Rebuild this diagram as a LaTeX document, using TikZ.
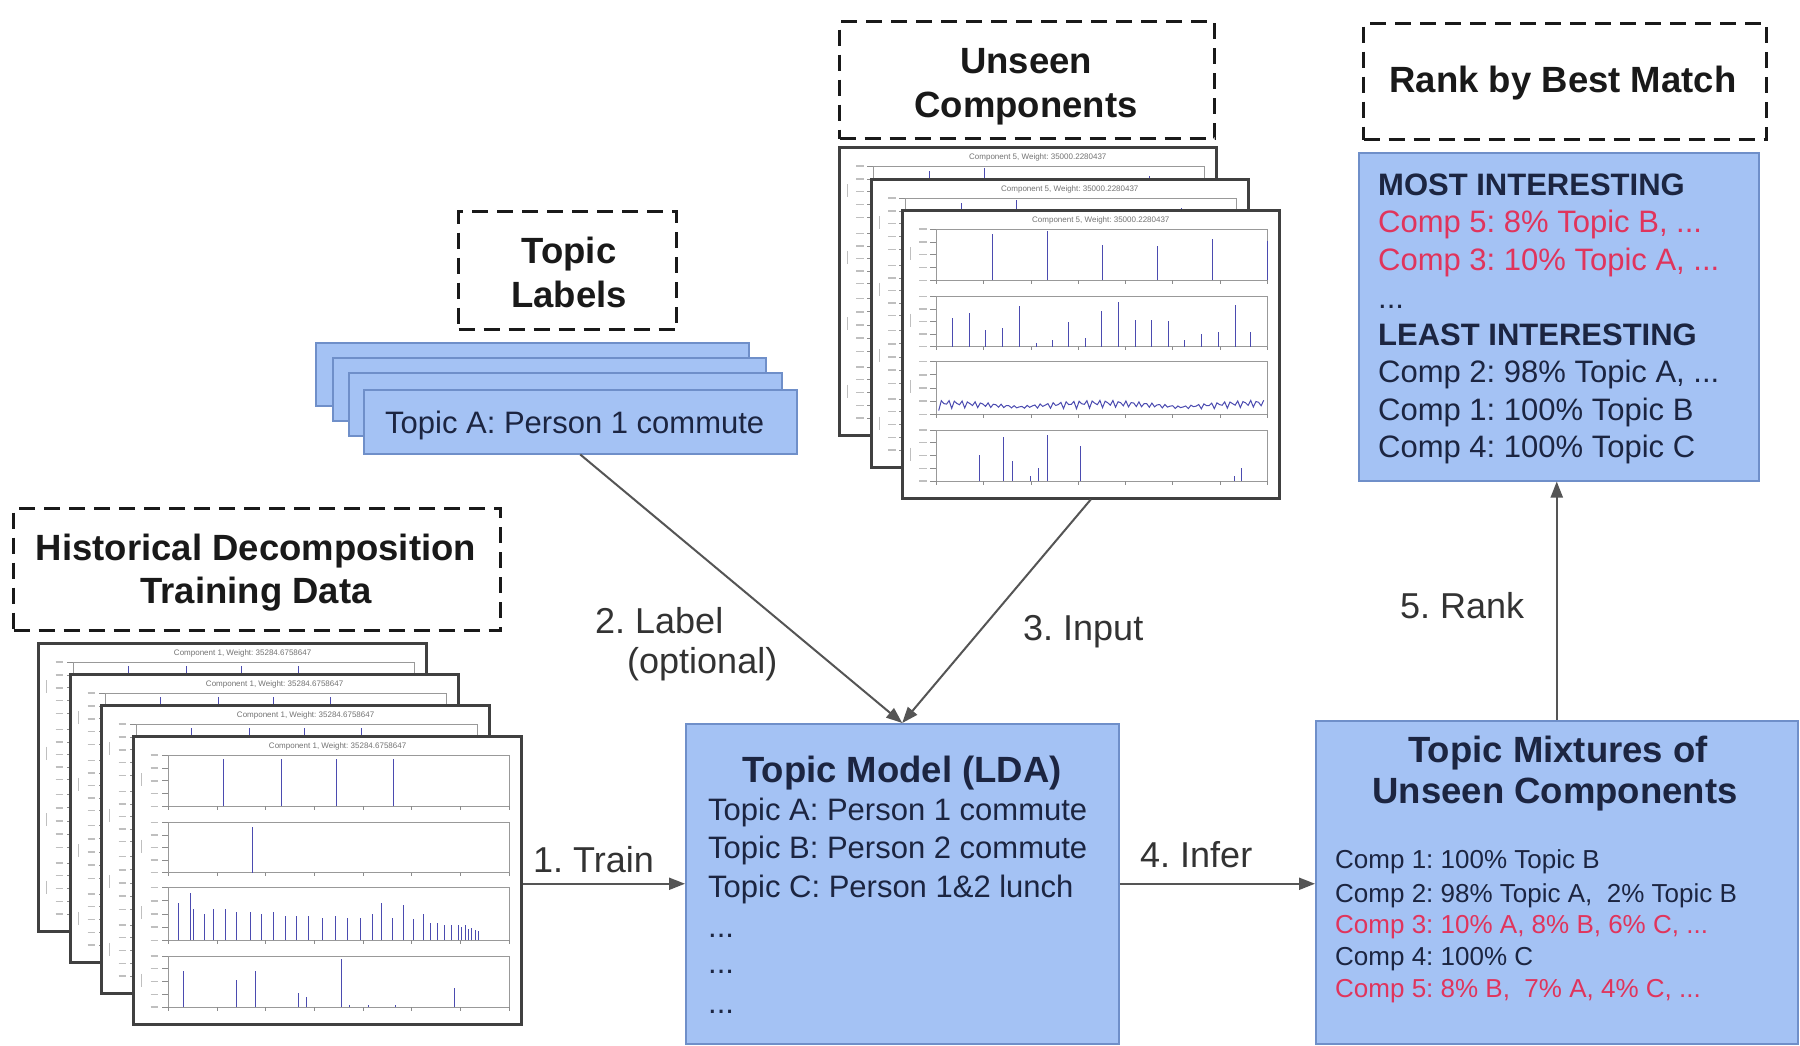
\documentclass[tikz,border=0pt]{standalone}
\usepackage{fontspec}
\setmainfont{Liberation Sans}
\usetikzlibrary{arrows.meta}

\definecolor{boxblue}{HTML}{A4C2F4}
\definecolor{boxedge}{HTML}{6F8FC9}
\definecolor{ink}{HTML}{1C2541}
\definecolor{hot}{HTML}{E0345C}
\definecolor{arrowgray}{HTML}{555555}
\definecolor{spikeblue}{HTML}{4B4BB0}

\tikzset{
  dashbox/.style={draw=black!90, line width=3pt, dash pattern=on 16pt off 9pt,
    inner sep=0pt, anchor=north west},
  bluebox/.style={fill=boxblue, draw=boxedge, line width=1.5pt, inner sep=0pt, anchor=north west},
  plotframe/.style={fill=white, draw=black!75, line width=2.5pt, inner sep=0pt, anchor=north west},
  plotpanel/.style={draw=black!40, line width=0.8pt},
  spikeline/.style={draw=spikeblue, line width=1pt},
  axtick/.style={draw=black!45, line width=0.7pt},
  flow/.style={draw=arrowgray, line width=2pt, -{Triangle[length=16pt,width=12pt]}},
  headtext/.style={font=\fontsize{36.5pt}{44pt}\selectfont\bfseries, text=black!90, anchor=base, inner sep=0pt},
  bodytext/.style={font=\fontsize{31pt}{38pt}\selectfont, text=ink, anchor=base west, inner sep=0pt},
  bodybold/.style={font=\fontsize{31pt}{38pt}\selectfont\bfseries, text=ink, anchor=base west, inner sep=0pt},
  listtext/.style={font=\fontsize{26pt}{31pt}\selectfont, text=ink, anchor=base west, inner sep=0pt},
  steplabel/.style={font=\fontsize{36pt}{44pt}\selectfont, text=black!80, anchor=base west, inner sep=0pt},
  plottitle/.style={font=\fontsize{8pt}{9pt}\selectfont, text=black!55, inner sep=0pt},
}

% four stacked sub-panels of a component plot, in unit coordinates of the card
\newcommand{\cardpanels}{%
  \foreach \ptop/\pbot in {0.07/0.248, 0.303/0.478, 0.53/0.713, 0.767/0.945}{
    \draw[plotpanel] (0.094,\ptop) rectangle (0.972,\pbot);
    \foreach \kk in {0,0.25,0.5,0.75,1}{
      \draw[axtick] (0.078,{\ptop+\kk*(\pbot-\ptop)}) -- (0.094,{\ptop+\kk*(\pbot-\ptop)});
      \draw[axtick, line width=1.4pt, draw=black!25] (0.048,{\ptop+\kk*(\pbot-\ptop)}) -- (0.068,{\ptop+\kk*(\pbot-\ptop)});
    }
    \foreach \kk in {0,...,7}{
      \draw[axtick] ({0.094+\kk*0.1254},\pbot) -- ({0.094+\kk*0.1254},{\pbot+0.012});
    }
    \draw[axtick, line width=1.4pt, draw=black!25] (0.025,{\ptop+0.35*(\pbot-\ptop)}) -- (0.025,{\ptop+0.6*(\pbot-\ptop)});
  }%
}

% vertical spikes: #1 panel top, #2 panel bottom, #3 list of position/height
\newcommand{\spikes}[3]{%
  \foreach \p/\hh in {#3}{\draw[spikeline] (\p,#2) -- (\p,{#2-\hh*(#2-#1)});}%
}

% a component plot card: name, x, y, width, height, title, spike content
\newcommand{\plotcard}[7]{%
  \node[plotframe, minimum width=#4pt, minimum height=#5pt] (#1) at (#2,#3) {};
  \begin{scope}[shift={(#2,#3)}, x={(#4pt,0pt)}, y={(0pt,-#5pt)}]
    \node[plottitle] at (0.53,0.038) {#6};
    \cardpanels
    #7
  \end{scope}%
}

\newcommand{\trainspikes}{%
  \spikes{0.07}{0.248}{0.236/0.93,0.385/0.93,0.528/0.93,0.675/0.93}
  \spikes{0.303}{0.478}{0.310/0.9}
  \spikes{0.53}{0.713}{0.121/0.70,0.152/0.90,0.158/0.6,0.188/0.50,0.211/0.60,0.241/0.60,0.270/0.53,
    0.305/0.53,0.334/0.50,0.364/0.53,0.395/0.47,0.423/0.47,0.454/0.47,0.490/0.43,0.525/0.47,
    0.556/0.43,0.588/0.43,0.619/0.50,0.644/0.70,0.672/0.43,0.700/0.67,0.725/0.40,0.750/0.50,
    0.770/0.33,0.788/0.33,0.805/0.30,0.823/0.30,0.841/0.30,0.850/0.25,0.859/0.30,0.868/0.22,
    0.876/0.23,0.885/0.2,0.894/0.17}
  \spikes{0.767}{0.945}{0.134/0.70,0.270/0.53,0.318/0.70,0.429/0.27,0.450/0.20,0.539/0.93,
    0.832/0.37,0.56/0.05,0.61/0.05,0.68/0.05}%
}

\newcommand{\unseenspikes}{%
  \spikes{0.07}{0.248}{0.242/0.90,0.388/0.97,0.535/0.70,0.681/0.67,0.827/0.80,0.971/0.77}
  \spikes{0.303}{0.478}{0.137/0.57,0.181/0.67,0.223/0.33,0.270/0.38,0.314/0.80,0.359/0.07,
    0.402/0.13,0.445/0.49,0.489/0.18,0.532/0.71,0.576/0.88,0.621/0.53,0.665/0.53,0.709/0.50,
    0.753/0.13,0.798/0.25,0.842/0.30,0.886/0.83,0.928/0.30}
  \draw[spikeline] (0.1,0.70) \foreach \ii in {1,...,125}{
    -- ({0.1+\ii*0.0069},{0.70-0.006-0.03*abs(sin(\ii*71.3))*(0.3+0.7*abs(cos(\ii*2.9)))}) };
  \spikes{0.767}{0.945}{0.208/0.52,0.272/0.87,0.297/0.39,0.343/0.10,0.365/0.26,0.388/0.90,
    0.476/0.68,0.884/0.10,0.903/0.26}%
}

\begin{document}
\frenchspacing
\begin{tikzpicture}[x=1pt, y=-1pt]
  \useasboundingbox (0,0) rectangle (1800,1045);
  \fill[white] (0,0) rectangle (1800,1045);

  % ---- training data ----
  \node[dashbox, minimum width=487pt, minimum height=122pt] (histbox) at (12,507) {};
  \node[headtext] at (256,560) {Historical Decomposition};
  \node[headtext] at (256,603) {Training Data};
  \plotcard{tra}{37}{642}{388}{288}{Component 1, Weight: 35284.6758647}{\trainspikes}
  \plotcard{trb}{69}{673}{388}{288}{Component 1, Weight: 35284.6758647}{\trainspikes}
  \plotcard{trc}{100}{704}{388}{288}{Component 1, Weight: 35284.6758647}{\trainspikes}
  \plotcard{train}{132}{735}{388}{288}{Component 1, Weight: 35284.6758647}{\trainspikes}

  % ---- topic labels ----
  \node[dashbox, minimum width=218pt, minimum height=118pt] (labelbox) at (457,210) {};
  \node[headtext] at (569,263) {Topic};
  \node[headtext] at (569,307) {Labels};
  \node[bluebox, minimum width=433pt, minimum height=63pt] (lba) at (315,342) {};
  \node[bluebox, minimum width=433pt, minimum height=63pt] (lbb) at (332,357) {};
  \node[bluebox, minimum width=433pt, minimum height=63pt] (lbc) at (348,372) {};
  \node[bluebox, minimum width=433pt, minimum height=64pt] (labels) at (363,389) {};
  \node[bodytext] at (385,433) {Topic A: Person 1 commute};

  % ---- unseen components ----
  \node[dashbox, minimum width=375pt, minimum height=117pt] (unseenbox) at (838,20) {};
  \node[headtext] at (1026,73) {Unseen};
  \node[headtext] at (1026,117) {Components};
  \plotcard{una}{838}{146}{377}{288}{Component 5, Weight: 35000.2280437}{\unseenspikes}
  \plotcard{unb}{870}{178}{377}{288}{Component 5, Weight: 35000.2280437}{\unseenspikes}
  \plotcard{unseen}{901}{209}{377}{288}{Component 5, Weight: 35000.2280437}{\unseenspikes}

  % ---- topic model ----
  \node[bluebox, minimum width=433pt, minimum height=320pt] (model) at (685,723) {};
  \node[headtext, text=ink] at (902,782) {Topic Model (LDA)};
  \node[bodytext] at (708,820) {Topic A: Person 1 commute};
  \node[bodytext] at (708,858) {Topic B: Person 2 commute};
  \node[bodytext] at (708,897) {Topic C: Person 1\&2 lunch};
  \node[bodytext] at (708,937) {...};
  \node[bodytext] at (708,973) {...};
  \node[bodytext] at (708,1013) {...};

  % ---- topic mixtures ----
  \node[bluebox, minimum width=482pt, minimum height=323pt] (mix) at (1315,720) {};
  \node[headtext, text=ink] at (1558,762) {Topic Mixtures of};
  \node[headtext, text=ink] at (1555,803) {Unseen Components};
  \node[listtext] at (1335,868) {Comp 1: 100\% Topic B};
  \node[listtext] at (1335,902) {Comp 2: 98\% Topic A,\ \ 2\% Topic B};
  \node[listtext, text=hot] at (1335,933) {Comp 3: 10\% A, 8\% B, 6\% C, ...};
  \node[listtext] at (1335,965) {Comp 4: 100\% C};
  \node[listtext, text=hot] at (1335,997) {Comp 5: 8\% B,\ \ 7\% A, 4\% C, ...};

  % ---- ranking ----
  \node[dashbox, minimum width=403pt, minimum height=116pt] (rankhead) at (1362,22) {};
  \node[headtext] at (1563,92) {Rank by Best Match};
  \node[bluebox, minimum width=400pt, minimum height=328pt] (rank) at (1358,152) {};
  \node[bodybold] at (1378,195) {MOST INTERESTING};
  \node[bodytext, text=hot] at (1378,232) {Comp 5: 8\% Topic B, ...};
  \node[bodytext, text=hot] at (1378,270) {Comp 3: 10\% Topic A, ...};
  \node[bodytext] at (1378,308) {...};
  \node[bodybold] at (1378,345) {LEAST INTERESTING};
  \node[bodytext] at (1378,382) {Comp 2: 98\% Topic A, ...};
  \node[bodytext] at (1378,420) {Comp 1: 100\% Topic B};
  \node[bodytext] at (1378,457) {Comp 4: 100\% Topic C};

  % ---- flow ----
  \draw[flow] (model.west -| train.east) -- (model.west);
  \draw[flow] (labels.south) -- (model.north);
  \draw[flow] (unseen.south) -- (model.north);
  \draw[flow] (model.east) -- (model.east -| mix.west);
  \draw[flow] (mix.north) -- (mix.north |- rank.south);

  \node[steplabel] (ltrain) at (533,872) {1. Train};
  \node[steplabel] (llabel) at (595,633) {2. Label};
  \node[steplabel] (lopt) at (627,673) {(optional)};
  \node[steplabel] (linput) at (1023,640) {3. Input};
  \node[steplabel] (linfer) at (1140,867) {4. Infer};
  \node[steplabel] (lrank) at (1400,618) {5. Rank};
\end{tikzpicture}
\end{document}
